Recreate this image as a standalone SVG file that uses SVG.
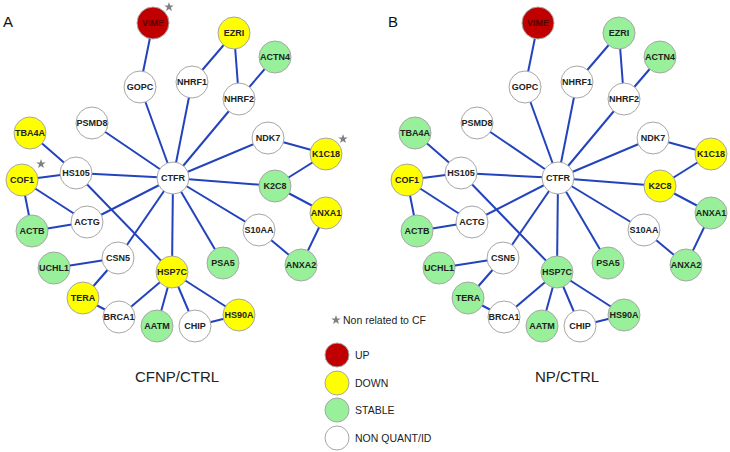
<svg xmlns="http://www.w3.org/2000/svg" xmlns:xlink="http://www.w3.org/1999/xlink" width="730" height="452" viewBox="0 0 730 452">
<style>
.bg{fill:#ffffff}
.e line{stroke:#2343bd;stroke-width:2}
.n circle{stroke:#a6a6a6;stroke-width:1}
.up{fill:#c00000}
.dn{fill:#ffff00}
.st{fill:#98f09a}
.nq{fill:#ffffff}
.n text{font-family:"Liberation Sans",Arial,sans-serif;font-size:9px;font-weight:bold;fill:#222;text-anchor:middle}
.n text.r{fill:#5a0000}
.star{fill:#808080}
.lab{font-family:"Liberation Sans",Arial,sans-serif;font-size:15px;fill:#111}
.cap{font-family:"Liberation Sans",Arial,sans-serif;font-size:15px;fill:#222;text-anchor:middle}
.leg{font-family:"Liberation Sans",Arial,sans-serif;font-size:10.5px;fill:#222}
</style>
<defs>
<polygon id="star" class="star" points="0,-5 1.18,-1.62 4.76,-1.55 1.9,0.62 2.94,4.05 0,2 -2.94,4.05 -1.9,0.62 -4.76,-1.55 -1.18,-1.62"/>
</defs>
<rect class="bg" x="0" y="0" width="730" height="452"/>

<!-- Panel A -->
<g id="panelA">
<text class="lab" x="3" y="27">A</text>
<g id="connectorsA" class="e">
<line x1="153" y1="23" x2="140" y2="87"/>
<line x1="140" y1="87" x2="173" y2="178"/>
<line x1="192" y1="82" x2="173" y2="178"/>
<line x1="192" y1="82" x2="234" y2="33"/>
<line x1="234" y1="33" x2="239" y2="99"/>
<line x1="275" y1="57" x2="239" y2="99"/>
<line x1="239" y1="99" x2="173" y2="178"/>
<line x1="92" y1="123" x2="173" y2="178"/>
<line x1="268" y1="138" x2="173" y2="178"/>
<line x1="268" y1="138" x2="326" y2="154"/>
<line x1="326" y1="154" x2="275" y2="186"/>
<line x1="275" y1="186" x2="173" y2="178"/>
<line x1="275" y1="186" x2="326" y2="213"/>
<line x1="326" y1="213" x2="301" y2="265"/>
<line x1="301" y1="265" x2="259" y2="230"/>
<line x1="259" y1="230" x2="173" y2="178"/>
<line x1="30" y1="133" x2="76" y2="173"/>
<line x1="22" y1="180" x2="76" y2="173"/>
<line x1="76" y1="173" x2="173" y2="178"/>
<line x1="22" y1="180" x2="87" y2="222"/>
<line x1="22" y1="180" x2="32" y2="231"/>
<line x1="32" y1="231" x2="87" y2="222"/>
<line x1="87" y1="222" x2="173" y2="178"/>
<line x1="76" y1="173" x2="172" y2="272"/>
<line x1="118" y1="258" x2="173" y2="178"/>
<line x1="173" y1="178" x2="172" y2="272"/>
<line x1="173" y1="178" x2="223" y2="263"/>
<line x1="118" y1="258" x2="54" y2="268"/>
<line x1="118" y1="258" x2="83" y2="298"/>
<line x1="83" y1="298" x2="119" y2="317"/>
<line x1="119" y1="317" x2="172" y2="272"/>
<line x1="172" y1="272" x2="157" y2="326"/>
<line x1="172" y1="272" x2="195" y2="326"/>
<line x1="172" y1="272" x2="239" y2="315"/>
<line x1="195" y1="326" x2="239" y2="315"/>
</g>
<g id="a-vime" class="n"><circle class="up" cx="153" cy="23" r="16"/><text class="r" x="153" y="26">VIME</text></g>
<g id="a-ezri" class="n"><circle class="dn" cx="234" cy="33" r="16"/><text x="234" y="36">EZRI</text></g>
<g id="a-actn4" class="n"><circle class="st" cx="275" cy="57" r="16"/><text x="275" y="60">ACTN4</text></g>
<g id="a-gopc" class="n"><circle class="nq" cx="140" cy="87" r="16"/><text x="140" y="90">GOPC</text></g>
<g id="a-nhrf1" class="n"><circle class="nq" cx="192" cy="82" r="16"/><text x="192" y="85">NHRF1</text></g>
<g id="a-nhrf2" class="n"><circle class="nq" cx="239" cy="99" r="16"/><text x="239" y="102">NHRF2</text></g>
<g id="a-psmd8" class="n"><circle class="nq" cx="92" cy="123" r="16"/><text x="92" y="126">PSMD8</text></g>
<g id="a-tba4a" class="n"><circle class="dn" cx="30" cy="133" r="16"/><text x="30" y="136">TBA4A</text></g>
<g id="a-ndk7" class="n"><circle class="nq" cx="268" cy="138" r="16"/><text x="268" y="141">NDK7</text></g>
<g id="a-k1c18" class="n"><circle class="dn" cx="326" cy="154" r="16"/><text x="326" y="157">K1C18</text></g>
<g id="a-cof1" class="n"><circle class="dn" cx="22" cy="180" r="16"/><text x="22" y="183">COF1</text></g>
<g id="a-hs105" class="n"><circle class="nq" cx="76" cy="173" r="16"/><text x="76" y="176">HS105</text></g>
<g id="a-ctfr" class="n"><circle class="nq" cx="173" cy="178" r="16"/><text x="173" y="181">CTFR</text></g>
<g id="a-k2c8" class="n"><circle class="st" cx="275" cy="186" r="16"/><text x="275" y="189">K2C8</text></g>
<g id="a-anxa1" class="n"><circle class="dn" cx="326" cy="213" r="16"/><text x="326" y="216">ANXA1</text></g>
<g id="a-actg" class="n"><circle class="nq" cx="87" cy="222" r="16"/><text x="87" y="225">ACTG</text></g>
<g id="a-actb" class="n"><circle class="st" cx="32" cy="231" r="16"/><text x="32" y="234">ACTB</text></g>
<g id="a-s10aa" class="n"><circle class="nq" cx="259" cy="230" r="16"/><text x="259" y="233">S10AA</text></g>
<g id="a-csn5" class="n"><circle class="nq" cx="118" cy="258" r="16"/><text x="118" y="261">CSN5</text></g>
<g id="a-uchl1" class="n"><circle class="st" cx="54" cy="268" r="16"/><text x="54" y="271">UCHL1</text></g>
<g id="a-hsp7c" class="n"><circle class="dn" cx="172" cy="272" r="16"/><text x="172" y="275">HSP7C</text></g>
<g id="a-psa5" class="n"><circle class="st" cx="223" cy="263" r="16"/><text x="223" y="266">PSA5</text></g>
<g id="a-anxa2" class="n"><circle class="st" cx="301" cy="265" r="16"/><text x="301" y="268">ANXA2</text></g>
<g id="a-tera" class="n"><circle class="dn" cx="83" cy="298" r="16"/><text x="83" y="301">TERA</text></g>
<g id="a-brca1" class="n"><circle class="nq" cx="119" cy="317" r="16"/><text x="119" y="320">BRCA1</text></g>
<g id="a-aatm" class="n"><circle class="st" cx="157" cy="326" r="16"/><text x="157" y="329">AATM</text></g>
<g id="a-chip" class="n"><circle class="nq" cx="195" cy="326" r="16"/><text x="195" y="329">CHIP</text></g>
<g id="a-hs90a" class="n"><circle class="dn" cx="239" cy="315" r="16"/><text x="239" y="318">HS90A</text></g>
<use xlink:href="#star" href="#star" x="169" y="7"/>
<use xlink:href="#star" href="#star" x="343" y="139"/>
<use xlink:href="#star" href="#star" x="41" y="164"/>
<text class="cap" x="177" y="382">CFNP/CTRL</text>
</g>

<!-- Panel B -->
<g id="panelB" transform="translate(385,0)">
<text class="lab" x="3" y="27">B</text>
<g id="connectorsB" class="e">
<line x1="153" y1="23" x2="140" y2="87"/>
<line x1="140" y1="87" x2="173" y2="178"/>
<line x1="192" y1="82" x2="173" y2="178"/>
<line x1="192" y1="82" x2="234" y2="33"/>
<line x1="234" y1="33" x2="239" y2="99"/>
<line x1="275" y1="57" x2="239" y2="99"/>
<line x1="239" y1="99" x2="173" y2="178"/>
<line x1="92" y1="123" x2="173" y2="178"/>
<line x1="268" y1="138" x2="173" y2="178"/>
<line x1="268" y1="138" x2="326" y2="154"/>
<line x1="326" y1="154" x2="275" y2="186"/>
<line x1="275" y1="186" x2="173" y2="178"/>
<line x1="275" y1="186" x2="326" y2="213"/>
<line x1="326" y1="213" x2="301" y2="265"/>
<line x1="301" y1="265" x2="259" y2="230"/>
<line x1="259" y1="230" x2="173" y2="178"/>
<line x1="30" y1="133" x2="76" y2="173"/>
<line x1="22" y1="180" x2="76" y2="173"/>
<line x1="76" y1="173" x2="173" y2="178"/>
<line x1="22" y1="180" x2="87" y2="222"/>
<line x1="22" y1="180" x2="32" y2="231"/>
<line x1="32" y1="231" x2="87" y2="222"/>
<line x1="87" y1="222" x2="173" y2="178"/>
<line x1="76" y1="173" x2="172" y2="272"/>
<line x1="118" y1="258" x2="173" y2="178"/>
<line x1="173" y1="178" x2="172" y2="272"/>
<line x1="173" y1="178" x2="223" y2="263"/>
<line x1="118" y1="258" x2="54" y2="268"/>
<line x1="118" y1="258" x2="83" y2="298"/>
<line x1="83" y1="298" x2="119" y2="317"/>
<line x1="119" y1="317" x2="172" y2="272"/>
<line x1="172" y1="272" x2="157" y2="326"/>
<line x1="172" y1="272" x2="195" y2="326"/>
<line x1="172" y1="272" x2="239" y2="315"/>
<line x1="195" y1="326" x2="239" y2="315"/>
</g>
<g id="b-vime" class="n"><circle class="up" cx="153" cy="23" r="16"/><text class="r" x="153" y="26">VIME</text></g>
<g id="b-ezri" class="n"><circle class="st" cx="234" cy="33" r="16"/><text x="234" y="36">EZRI</text></g>
<g id="b-actn4" class="n"><circle class="st" cx="275" cy="57" r="16"/><text x="275" y="60">ACTN4</text></g>
<g id="b-gopc" class="n"><circle class="nq" cx="140" cy="87" r="16"/><text x="140" y="90">GOPC</text></g>
<g id="b-nhrf1" class="n"><circle class="nq" cx="192" cy="82" r="16"/><text x="192" y="85">NHRF1</text></g>
<g id="b-nhrf2" class="n"><circle class="nq" cx="239" cy="99" r="16"/><text x="239" y="102">NHRF2</text></g>
<g id="b-psmd8" class="n"><circle class="nq" cx="92" cy="123" r="16"/><text x="92" y="126">PSMD8</text></g>
<g id="b-tba4a" class="n"><circle class="st" cx="30" cy="133" r="16"/><text x="30" y="136">TBA4A</text></g>
<g id="b-ndk7" class="n"><circle class="nq" cx="268" cy="138" r="16"/><text x="268" y="141">NDK7</text></g>
<g id="b-k1c18" class="n"><circle class="dn" cx="326" cy="154" r="16"/><text x="326" y="157">K1C18</text></g>
<g id="b-cof1" class="n"><circle class="dn" cx="22" cy="180" r="16"/><text x="22" y="183">COF1</text></g>
<g id="b-hs105" class="n"><circle class="nq" cx="76" cy="173" r="16"/><text x="76" y="176">HS105</text></g>
<g id="b-ctfr" class="n"><circle class="nq" cx="173" cy="178" r="16"/><text x="173" y="181">CTFR</text></g>
<g id="b-k2c8" class="n"><circle class="dn" cx="275" cy="186" r="16"/><text x="275" y="189">K2C8</text></g>
<g id="b-anxa1" class="n"><circle class="st" cx="326" cy="213" r="16"/><text x="326" y="216">ANXA1</text></g>
<g id="b-actg" class="n"><circle class="nq" cx="87" cy="222" r="16"/><text x="87" y="225">ACTG</text></g>
<g id="b-actb" class="n"><circle class="st" cx="32" cy="231" r="16"/><text x="32" y="234">ACTB</text></g>
<g id="b-s10aa" class="n"><circle class="nq" cx="259" cy="230" r="16"/><text x="259" y="233">S10AA</text></g>
<g id="b-csn5" class="n"><circle class="nq" cx="118" cy="258" r="16"/><text x="118" y="261">CSN5</text></g>
<g id="b-uchl1" class="n"><circle class="st" cx="54" cy="268" r="16"/><text x="54" y="271">UCHL1</text></g>
<g id="b-hsp7c" class="n"><circle class="st" cx="172" cy="272" r="16"/><text x="172" y="275">HSP7C</text></g>
<g id="b-psa5" class="n"><circle class="st" cx="223" cy="263" r="16"/><text x="223" y="266">PSA5</text></g>
<g id="b-anxa2" class="n"><circle class="st" cx="301" cy="265" r="16"/><text x="301" y="268">ANXA2</text></g>
<g id="b-tera" class="n"><circle class="st" cx="83" cy="298" r="16"/><text x="83" y="301">TERA</text></g>
<g id="b-brca1" class="n"><circle class="nq" cx="119" cy="317" r="16"/><text x="119" y="320">BRCA1</text></g>
<g id="b-aatm" class="n"><circle class="st" cx="157" cy="326" r="16"/><text x="157" y="329">AATM</text></g>
<g id="b-chip" class="n"><circle class="nq" cx="195" cy="326" r="16"/><text x="195" y="329">CHIP</text></g>
<g id="b-hs90a" class="n"><circle class="st" cx="239" cy="315" r="16"/><text x="239" y="318">HS90A</text></g>
<text class="cap" x="182" y="382">NP/CTRL</text>
</g>

<!-- Legend -->
<g id="legend">
<use xlink:href="#star" href="#star" x="336" y="320"/>
<text class="leg" x="343" y="324">Non related to CF</text>
<g id="leg-up" class="n"><circle class="up" cx="337" cy="355" r="12"/></g>
<text class="leg" x="355" y="359">UP</text>
<g id="leg-down" class="n"><circle class="dn" cx="337" cy="383" r="12"/></g>
<text class="leg" x="355" y="387">DOWN</text>
<g id="leg-stable" class="n"><circle class="st" cx="337" cy="410" r="12"/></g>
<text class="leg" x="355" y="414">STABLE</text>
<g id="leg-nq" class="n"><circle class="nq" cx="337" cy="438" r="12"/></g>
<text class="leg" x="355" y="442">NON QUANT/ID</text>
</g>
</svg>
